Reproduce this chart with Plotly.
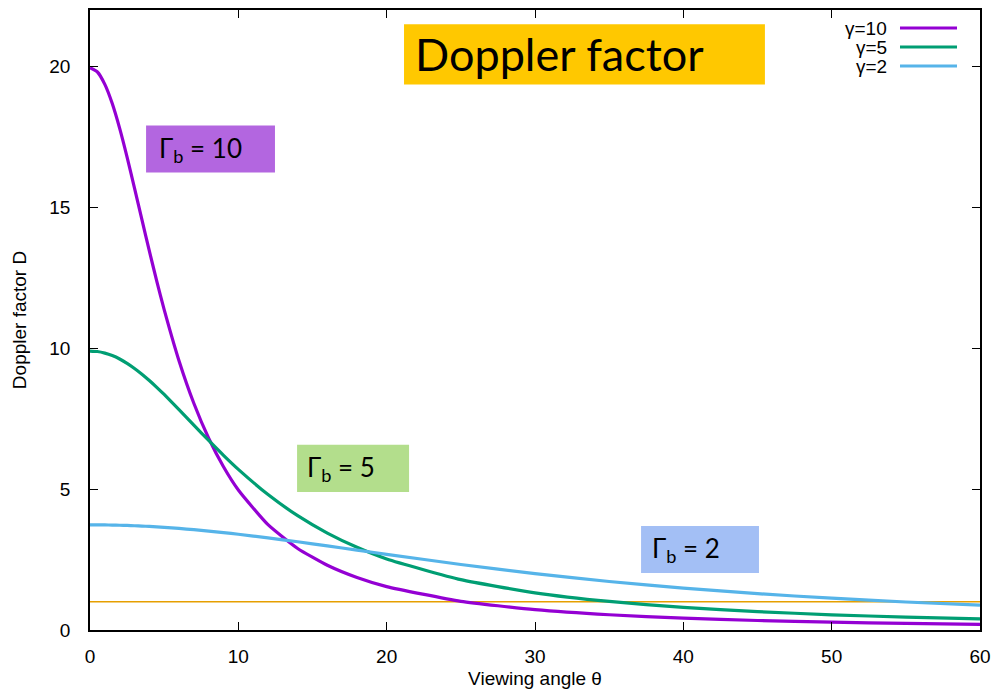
import plotly.graph_objects as go

# Viewing angle (degrees) and Doppler factor for three bulk Lorentz factors
theta = [0, 0.5, 1, 1.5, 2, 2.5, 3, 3.5, 4, 4.5, 5, 6, 7, 8, 9, 10,
         12, 14, 16, 18, 20, 25, 30, 35, 40, 45, 50, 55, 60]
d_gamma10 = [19.95, 19.80, 19.36, 18.68, 17.80, 16.78, 15.68, 14.56, 13.45, 12.38,
             11.37, 9.557, 8.046, 6.805, 5.793, 4.968,
             3.738, 2.893, 2.296, 1.862, 1.538, 1.018, 0.723, 0.541, 0.421,
             0.337, 0.277, 0.233, 0.199]
d_gamma5 = [9.899, 9.881, 9.826, 9.737, 9.615, 9.462, 9.282, 9.078, 8.853, 8.612,
            8.357, 7.821, 7.271, 6.725, 6.198, 5.700,
            4.806, 4.056, 3.439, 2.934, 2.522, 1.786, 1.320, 1.013, 0.802,
            0.651, 0.540, 0.457, 0.392]
d_gamma2 = [3.732, 3.731, 3.728, 3.724, 3.717, 3.709, 3.699, 3.688, 3.674, 3.659,
            3.642, 3.604, 3.560, 3.511, 3.457, 3.398,
            3.270, 3.131, 2.985, 2.835, 2.685, 2.324, 2.000, 1.721, 1.486,
            1.290, 1.128, 0.994, 0.882]
unity = [1, 1]
unity_theta = [0, 60]

series_names = ["γ=10", "γ=5", "γ=2"]
series_colors = ["#9400D3", "#009E73", "#56B4E9"]
x_ticks = [0, 10, 20, 30, 40, 50, 60]
y_ticks = [0, 5, 10, 15, 20]

sans = "Liberation Sans, Arial, sans-serif"
tick_font = dict(family=sans, size=19, color="black")
box_font = "Lato, Open Sans, sans-serif"

fig = go.Figure()

fig.add_trace(go.Scatter(x=unity_theta, y=unity, mode="lines",
                         line=dict(color="#E69F00", width=1.5), showlegend=False))
for name, ys, col in zip(series_names, [d_gamma10, d_gamma5, d_gamma2], series_colors):
    fig.add_trace(go.Scatter(x=theta, y=ys, mode="lines", name=name,
                             line=dict(color=col, width=3.2, shape="spline", smoothing=0.5),
                             showlegend=False))

# legend drawn gnuplot-style: label on the left, sample line on the right
for i, (name, col) in enumerate(zip(series_names, series_colors)):
    yp = 1 - (18 + 19 * i) / 620
    fig.add_annotation(xref="paper", yref="paper", x=(889 - 90) / 890, y=yp,
                       text=name, showarrow=False, xanchor="right", yanchor="middle",
                       font=dict(family=sans, size=19, color="black"))
    fig.add_shape(type="line", xref="paper", yref="paper",
                  x0=(900 - 90) / 890, x1=(957 - 90) / 890, y0=yp, y1=yp,
                  line=dict(color=col, width=3.2))

# labelled boxes
boxes = [
    dict(x0=21.17, x1=45.5, y0=19.36, y1=21.49, fill="#FFC800",
         text="Doppler factor", tx=21.75, size=45),
    dict(x0=3.78, x1=12.47, y0=16.23, y1=17.90, fill="#B366E0",
         text="Γ<sub>b</sub> = 10", tx=4.5, size=26),
    dict(x0=13.96, x1=21.51, y0=4.90, y1=6.57, fill="#B3DE8C",
         text="Γ<sub>b</sub> = 5", tx=14.5, size=26),
    dict(x0=37.15, x1=45.1, y0=2.02, y1=3.69, fill="#A3BFF5",
         text="Γ<sub>b</sub> = 2", tx=37.75, size=26),
]
for b in boxes:
    fig.add_shape(type="rect", x0=b["x0"], x1=b["x1"], y0=b["y0"], y1=b["y1"],
                  fillcolor=b["fill"], line=dict(width=0), layer="above")
    fig.add_annotation(x=b["tx"], y=(b["y0"] + b["y1"]) / 2, text=b["text"],
                       showarrow=False, xanchor="left", yanchor="middle",
                       font=dict(family=box_font, size=b["size"], color="black"))

axis_common = dict(showline=True, linecolor="black", linewidth=1.5, mirror="ticks",
                   ticks="inside", ticklen=8, tickwidth=1, tickcolor="black",
                   showgrid=False, zeroline=False, tickfont=tick_font, automargin=False)

fig.update_xaxes(range=[0, 60], tickvals=x_ticks, ticklabelstandoff=8,
                 title=dict(text="Viewing angle θ", font=tick_font, standoff=6),
                 **axis_common)
fig.update_yaxes(range=[0, 22], tickvals=y_ticks, ticklabelstandoff=14,
                 title=dict(text="Doppler factor D", font=tick_font, standoff=18),
                 **axis_common)

fig.update_layout(width=994, height=691, margin=dict(l=90, r=14, t=10, b=61),
                  plot_bgcolor="white", paper_bgcolor="white")

fig.write_html("out.html")
